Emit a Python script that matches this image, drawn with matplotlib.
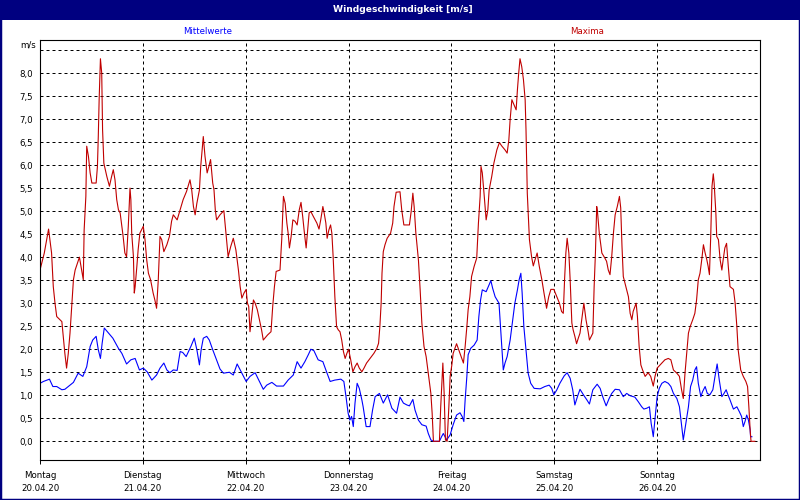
import numpy as np
import matplotlib.pyplot as plt
from matplotlib.patches import Rectangle

# Wochentage / Datum unter der x-Achse
day_names = ['Montag', 'Dienstag', 'Mittwoch', 'Donnerstag', 'Freitag', 'Samstag', 'Sonntag']
day_dates = ['20.04.20', '21.04.20', '22.04.20', '23.04.20', '24.04.20', '25.04.20', '26.04.20']

# Maxima: Stunden ab Montag 0:00, Werte in m/s
max_hours = [
    0.0, 1.0, 2.0, 2.7, 3.1, 3.5, 3.9, 5.1, 5.4, 5.8,
    6.2, 6.6, 7.0, 7.4, 7.8, 8.2, 9.2, 9.7, 10.1, 10.3,
    10.7, 10.9, 11.3, 11.7, 12.1, 13.1, 13.4, 13.6, 13.8, 14.1,
    14.4, 14.6, 14.9, 15.6, 16.2, 16.7, 17.1, 17.5, 17.9, 18.3,
    18.7, 19.1, 19.4, 19.8, 20.2, 20.6, 21.0, 21.2, 21.4, 21.8,
    22.0, 22.2, 22.6, 22.9, 23.3, 24.1, 24.5, 24.9, 25.3, 25.8,
    26.4, 26.8, 27.2, 27.6, 28.0, 28.4, 28.9, 29.6, 30.2, 30.7,
    31.1, 32.0, 32.7, 33.4, 34.2, 35.0, 35.4, 35.8, 36.2, 36.6,
    37.2, 37.5, 37.9, 38.1, 38.5, 39.0, 39.4, 39.8, 40.3, 40.6,
    40.9, 41.2, 42.0, 42.9, 43.4, 43.9, 44.5, 45.1, 45.7, 46.3,
    46.7, 47.1, 47.6, 48.1, 48.4, 48.7, 49.0, 49.4, 49.8, 50.2,
    50.7, 51.2, 51.7, 52.1, 53.1, 53.9, 54.3, 54.7, 55.1, 56.0,
    56.4, 56.8, 57.2, 57.6, 57.9, 58.2, 58.6, 59.0, 59.5, 60.0,
    60.5, 60.9, 61.3, 61.7, 62.1, 62.4, 62.8, 63.2, 63.8, 64.6,
    65.1, 65.5, 66.0, 66.3, 66.7, 67.0, 67.4, 67.8, 68.1, 68.4,
    68.8, 69.2, 69.6, 70.0, 70.4, 70.8, 71.2, 71.6, 72.0, 72.5,
    73.0, 73.5, 74.0, 74.5, 75.1, 75.6, 76.2, 77.0, 77.9, 78.6,
    79.0, 79.3, 79.6, 79.8, 80.1, 80.5, 81.0, 81.8, 82.3, 82.6,
    83.1, 84.0, 84.4, 84.9, 86.2, 86.6, 87.0, 87.3, 87.7, 88.3,
    88.7, 89.1, 89.6, 90.1, 90.6, 91.2, 91.5, 91.8, 93.2, 93.5,
    94.0, 94.3, 94.6, 95.0, 95.4, 95.7, 96.1, 96.4, 97.2, 98.0,
    98.8, 99.2, 99.6, 99.9, 100.3, 100.7, 101.3, 101.9, 102.3, 102.7,
    102.9, 103.2, 103.6, 104.1, 104.5, 104.8, 105.4, 105.9, 106.6, 107.2,
    107.7, 108.5, 109.0, 109.4, 109.7, 110.1, 110.6, 111.1, 111.4, 111.7,
    112.0, 112.4, 112.8, 113.2, 113.4, 113.7, 114.2, 114.7, 115.1, 115.5,
    116.0, 116.5, 117.1, 117.6, 118.2, 118.7, 119.2, 119.9, 120.6, 121.2,
    121.7, 122.1, 122.4, 122.7, 123.0, 123.4, 123.7, 124.1, 124.4, 124.8,
    125.2, 125.6, 126.0, 126.4, 126.9, 127.4, 127.9, 128.2, 129.0, 129.3,
    129.6, 129.9, 130.1, 130.5, 131.1, 131.8, 132.2, 132.6, 133.0, 133.4,
    133.8, 134.2, 134.7, 135.2, 135.5, 135.8, 136.1, 136.7, 137.3, 137.7,
    138.1, 138.4, 139.1, 139.4, 139.8, 140.2, 140.6, 141.2, 141.9, 142.5,
    143.1, 143.5, 144.0, 144.7, 145.8, 146.6, 147.2, 147.8, 148.6, 149.2,
    149.7, 150.1, 150.5, 150.9, 151.3, 151.7, 152.3, 152.8, 153.2, 153.6,
    154.0, 154.4, 154.8, 155.2, 155.6, 155.9, 156.2, 156.5, 156.8, 157.1,
    157.3, 157.7, 157.9, 158.3, 158.7, 159.1, 159.4, 159.8, 160.2, 160.6,
    161.0, 161.8, 162.2, 162.6, 162.9, 163.5, 164.1, 164.7, 165.1, 165.4,
    165.7, 165.9, 166.8,
]
max_values = [
    3.72, 4.09, 4.61, 4.09, 3.36, 3.00, 2.71, 2.60, 2.30, 1.91,
    1.59, 1.91, 2.35, 2.93, 3.51, 3.72, 4.00, 3.72, 3.51, 4.59,
    5.32, 6.41, 6.19, 5.83, 5.61, 5.61, 5.97, 6.62, 7.42, 8.31,
    8.00, 6.77, 6.04, 5.75, 5.54, 5.75, 5.90, 5.68, 5.25, 5.03,
    4.96, 4.67, 4.45, 4.09, 4.01, 4.67, 5.50, 5.25, 4.52, 4.01,
    3.22, 3.36, 3.80, 4.16, 4.52, 4.67, 4.38, 3.94, 3.65, 3.51,
    3.22, 3.07, 2.89, 3.51, 4.45, 4.38, 4.12, 4.27, 4.45, 4.78,
    4.92, 4.81, 5.03, 5.25, 5.43, 5.68, 5.46, 5.10, 4.92, 5.17,
    5.46, 5.97, 6.41, 6.62, 6.19, 5.83, 5.97, 6.12, 5.61, 5.46,
    5.03, 4.81, 4.92, 5.01, 4.52, 4.01, 4.23, 4.41, 4.16, 3.72,
    3.36, 3.11, 3.22, 3.30, 3.00, 2.93, 2.38, 2.71, 3.07, 3.00,
    2.86, 2.64, 2.42, 2.20, 2.31, 2.38, 2.93, 3.36, 3.69, 3.72,
    4.38, 5.32, 5.17, 4.74, 4.52, 4.20, 4.45, 4.81, 4.78, 4.70,
    5.03, 5.19, 4.88, 4.52, 4.20, 4.52, 4.96, 4.99, 4.88, 4.74,
    4.61, 4.81, 5.10, 4.96, 4.74, 4.41, 4.59, 4.70, 4.52, 4.01,
    3.14, 2.49, 2.42, 2.38, 2.20, 1.95, 1.80, 1.91, 2.00, 1.77,
    1.51, 1.62, 1.70, 1.59, 1.51, 1.59, 1.70, 1.80, 1.91, 2.02,
    2.13, 2.49, 3.00, 3.65, 4.12, 4.27, 4.41, 4.52, 4.74, 5.10,
    5.41, 5.42, 5.03, 4.70, 4.70, 4.99, 5.39, 5.10, 4.52, 3.94,
    3.29, 2.57, 2.06, 1.84, 1.48, 1.04, 0.61, 0.00, 0.00, 0.75,
    1.70, 1.04, 0.03, 0.00, 0.75, 1.41, 1.66, 1.91, 2.12, 1.91,
    1.70, 2.06, 2.49, 2.86, 3.14, 3.58, 3.80, 3.98, 4.74, 5.32,
    5.97, 5.83, 5.39, 4.81, 5.03, 5.46, 5.75, 6.04, 6.33, 6.49,
    6.42, 6.33, 6.26, 6.55, 6.99, 7.42, 7.31, 7.20, 7.64, 8.00,
    8.31, 8.14, 7.86, 7.42, 6.77, 5.39, 4.38, 4.01, 3.81, 3.94,
    4.09, 3.80, 3.51, 3.22, 2.89, 3.14, 3.30, 3.30, 3.14, 3.00,
    2.82, 2.78, 3.51, 4.09, 4.41, 4.09, 3.51, 2.57, 2.42, 2.28,
    2.12, 2.24, 2.35, 2.64, 3.00, 2.64, 2.38, 2.20, 2.35, 3.36,
    4.09, 5.10, 4.96, 4.52, 4.09, 3.98, 3.91, 3.72, 3.62, 4.01,
    4.52, 4.92, 5.10, 5.32, 5.07, 4.23, 3.58, 3.36, 3.14, 2.78,
    2.64, 2.82, 3.00, 2.71, 2.06, 1.66, 1.55, 1.41, 1.49, 1.41,
    1.20, 1.41, 1.59, 1.66, 1.77, 1.80, 1.77, 1.55, 1.48, 1.41,
    1.12, 0.93, 1.48, 1.91, 2.35, 2.49, 2.64, 2.78, 3.07, 3.51,
    3.65, 3.94, 4.27, 4.09, 3.94, 3.80, 3.62, 4.45, 5.54, 5.81,
    5.61, 4.96, 4.45, 4.38, 3.94, 3.72, 3.94, 4.20, 4.30, 3.80,
    3.36, 3.30, 3.00, 2.49, 1.99, 1.55, 1.41, 1.30, 1.19, 0.75,
    0.25, 0.00, 0.00,
]

# Mittelwerte
mean_hours = [
    0.0, 0.8, 2.2, 3.0, 3.9, 5.1, 5.8, 7.0, 7.8, 8.9,
    10.0, 10.9, 11.7, 12.3, 13.1, 13.6, 14.1, 14.5, 15.0, 15.9,
    17.0, 18.3, 19.1, 20.2, 21.2, 22.2, 23.2, 24.1, 25.0, 26.1,
    27.2, 28.0, 28.9, 29.6, 30.3, 31.1, 32.0, 32.7, 33.3, 34.1,
    35.2, 36.0, 36.6, 37.2, 37.6, 38.1, 38.9, 39.5, 40.3, 41.2,
    42.0, 42.8, 44.2, 45.1, 46.0, 47.1, 48.1, 49.0, 50.2, 51.2,
    52.1, 52.9, 54.1, 55.2, 56.8, 57.9, 59.1, 60.0, 60.9, 61.8,
    62.6, 63.2, 63.9, 64.9, 66.0, 66.7, 67.7, 68.8, 70.2, 70.9,
    71.4, 71.9, 72.3, 72.7, 73.1, 73.5, 74.0, 74.5, 75.1, 75.4,
    76.1, 77.0, 77.6, 78.2, 79.2, 80.1, 81.1, 82.1, 83.2, 84.0,
    84.8, 85.6, 86.2, 87.0, 87.5, 88.3, 89.1, 90.1, 90.6, 91.2,
    91.8, 93.2, 93.7, 94.1, 94.5, 94.9, 95.7, 96.4, 97.2, 98.0,
    98.5, 98.9, 99.2, 99.6, 99.9, 100.5, 101.3, 102.0, 102.4, 102.8,
    103.2, 104.1, 104.6, 105.2, 105.6, 106.2, 107.1, 107.5, 107.8, 108.1,
    108.5, 109.0, 109.7, 110.3, 110.8, 111.4, 111.8, 112.2, 112.5, 112.9,
    113.4, 113.9, 114.5, 115.3, 116.7, 117.8, 118.8, 119.4, 119.9, 120.6,
    121.3, 122.3, 123.0, 123.7, 124.3, 124.8, 125.4, 126.0, 126.8, 127.6,
    128.2, 129.0, 130.0, 130.7, 131.3, 132.1, 132.8, 133.4, 134.2, 135.2,
    136.1, 136.9, 137.7, 138.8, 139.6, 140.4, 140.9, 141.6, 142.2, 142.6,
    142.8, 143.1, 143.4, 143.7, 144.0, 144.5, 145.1, 145.8, 146.6, 147.2,
    147.8, 148.6, 149.2, 149.7, 150.1, 150.7, 151.3, 151.8, 152.3, 152.8,
    153.2, 153.6, 154.2, 154.6, 155.2, 155.7, 156.3, 157.0, 157.5, 158.0,
    158.5, 159.1, 159.6, 160.1, 160.4, 161.0, 161.8, 162.6, 163.2, 163.7,
    164.1, 164.5, 164.9, 165.3, 165.7, 165.8, 166.1,
]
mean_values = [
    1.26, 1.30, 1.35, 1.19, 1.19, 1.12, 1.13, 1.22, 1.28, 1.48,
    1.41, 1.62, 2.06, 2.20, 2.28, 1.99, 1.80, 2.13, 2.46, 2.36,
    2.24, 2.02, 1.91, 1.68, 1.77, 1.80, 1.55, 1.59, 1.51, 1.33,
    1.44, 1.59, 1.70, 1.55, 1.49, 1.55, 1.54, 1.95, 1.93, 1.84,
    2.06, 2.24, 1.99, 1.66, 1.99, 2.24, 2.28, 2.20, 1.99, 1.77,
    1.57, 1.48, 1.50, 1.44, 1.68, 1.48, 1.30, 1.41, 1.49, 1.30,
    1.13, 1.22, 1.28, 1.20, 1.20, 1.33, 1.44, 1.73, 1.59, 1.73,
    1.88, 2.00, 1.97, 1.77, 1.73, 1.55, 1.30, 1.33, 1.35, 1.30,
    0.97, 0.61, 0.46, 0.54, 0.32, 0.83, 1.26, 1.15, 0.90, 0.75,
    0.32, 0.32, 0.68, 0.97, 1.04, 0.83, 1.01, 0.72, 0.61, 0.96,
    0.83, 0.79, 0.77, 0.91, 0.68, 0.46, 0.36, 0.33, 0.17, 0.03,
    0.00, 0.00, 0.10, 0.17, 0.10, 0.03, 0.14, 0.36, 0.57, 0.62,
    0.54, 0.43, 0.90, 1.41, 1.88, 2.02, 2.09, 2.20, 2.71, 3.07,
    3.29, 3.25, 3.36, 3.49, 3.33, 3.14, 3.00, 2.42, 1.99, 1.55,
    1.70, 1.84, 2.20, 2.64, 3.00, 3.29, 3.51, 3.65, 3.22, 2.49,
    1.99, 1.48, 1.26, 1.15, 1.14, 1.19, 1.22, 1.15, 1.01, 1.12,
    1.26, 1.42, 1.49, 1.37, 1.12, 0.79, 0.97, 1.13, 1.01, 0.90,
    0.81, 1.12, 1.24, 1.15, 0.97, 0.77, 0.93, 1.04, 1.13, 1.12,
    0.97, 1.04, 0.99, 0.96, 0.86, 0.75, 0.70, 0.72, 0.75, 0.39,
    0.28, 0.10, 0.39, 0.68, 0.97, 1.15, 1.26, 1.30, 1.26, 1.19,
    1.04, 0.93, 0.75, 0.36, 0.03, 0.39, 0.75, 1.19, 1.33, 1.55,
    1.62, 1.26, 0.97, 1.08, 1.19, 1.04, 1.01, 1.12, 1.41, 1.68,
    1.33, 0.97, 1.04, 1.12, 1.04, 0.90, 0.70, 0.75, 0.64, 0.54,
    0.32, 0.43, 0.57, 0.46, 0.25, 0.10, 0.10,
]

y_ticks = np.arange(0, 8.51, 0.5)

NAVY = '#000080'
RED = '#c00000'
BLUE = '#0000ff'

plt.rcParams['font.family'] = ['DejaVu Sans']
plt.rcParams['font.size'] = 6.2

fig = plt.figure(figsize=(8, 5), dpi=100)
fig.patch.set_facecolor('white')

# Titelleiste und Rahmen
fig.add_artist(Rectangle((0, 0.96), 1, 0.04, transform=fig.transFigure,
                         facecolor=NAVY, edgecolor='none'))
fig.add_artist(Rectangle((0, 0), 1, 1, transform=fig.transFigure,
                         fill=False, edgecolor=NAVY, linewidth=2.5))
fig.text(0.504, 0.981, 'Windgeschwindigkeit [m/s]', color='white',
         weight='bold', ha='center', va='center', fontsize=6.6)

ax = fig.add_axes([0.05, 0.08, 0.9, 0.84])
ax.plot(mean_hours, mean_values, color=BLUE, lw=0.8)
ax.plot(max_hours, max_values, color=RED, lw=0.8)

ax.set_xlim(0, 168)
ax.set_ylim(-0.406, 8.717)

ax.set_yticks(y_ticks)
ax.set_yticklabels([f'{v:.1f}'.replace('.', ',') if v <= 8 else '' for v in y_ticks])
ax.tick_params(axis='y', length=0, pad=5)

ax.set_xticks(np.arange(0, 168, 24))
ax.set_xticklabels([f'{d}\n{t}' for d, t in zip(day_names, day_dates)])
ax.tick_params(axis='x', length=3, width=0.7, pad=5, direction='out')
for lbl in ax.get_xticklabels():
    lbl.set_linespacing(1.6)

ax.grid(True, color='black', linestyle=(0, (3, 3)), linewidth=0.72)
for s in ax.spines.values():
    s.set_linewidth(0.8)

fig.text(36 / 800, 1 - 45 / 500, 'm/s', ha='right', va='center')
fig.text(208 / 800, 1 - 31 / 500, 'Mittelwerte', color=BLUE, ha='center', va='center')
fig.text(587 / 800, 1 - 31 / 500, 'Maxima', color=RED, ha='center', va='center')

fig.savefig('out.png', dpi=100)
